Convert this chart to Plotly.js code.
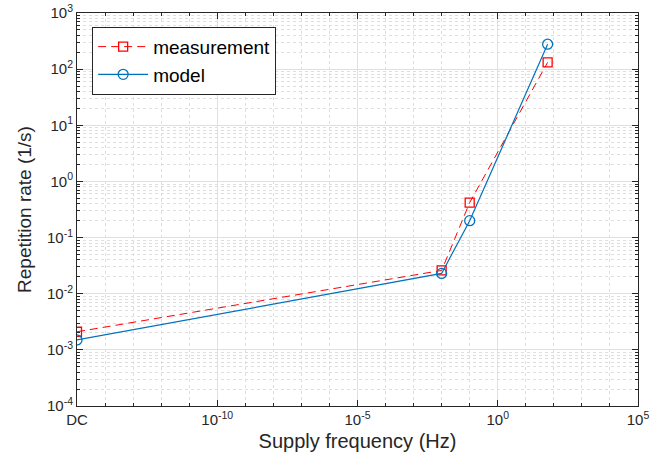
<!DOCTYPE html>
<html><head><meta charset="utf-8">
<script src="https://cdn.plot.ly/plotly-3.0.1.min.js"></script>
<style>body{margin:0;padding:0;background:#fff}#chart{width:650px;height:460px}</style>
</head><body><div id="chart"></div>
<script>
// DC is plotted at 1e-15 Hz (left edge of axis)
const freqMeas = [1e-15, 0.01, 0.1, 60];
const rateMeas = [0.0021, 0.026, 0.42, 132];
const freqModel = [1e-15, 0.01, 0.1, 60];
const rateModel = [0.0015, 0.023, 0.20, 278];
const xTickVals = [1e-15, 1e-10, 1e-5, 1, 1e5];
const xTickText = ['DC', '10<sup>-10</sup>', '10<sup>-5</sup>', '10<sup>0</sup>', '10<sup>5</sup>'];
const yTickVals = [1e-4, 1e-3, 1e-2, 1e-1, 1, 10, 100, 1000];
const yTickText = ['10<sup>-4</sup>', '10<sup>-3</sup>', '10<sup>-2</sup>', '10<sup>-1</sup>', '10<sup>0</sup>', '10<sup>1</sup>', '10<sup>2</sup>', '10<sup>3</sup>'];

const xMinor = [];
for (let e = -15; e <= 5; e++) xMinor.push(Math.pow(10, e));
const yMinor = [];
for (let e = -4; e < 3; e++) for (let d = 2; d <= 9; d++) yMinor.push(d * Math.pow(10, e));

const font = 'Liberation Sans, Arial, sans-serif';
const traces = [
  {x: freqMeas, y: rateMeas, name: 'measurement', mode: 'lines+markers',
   line: {color: '#ff0000', width: 1, dash: '8px,5px'},
   marker: {symbol: 'square-open', size: 9, color: '#ff0000', line: {width: 1.3}}},
  {x: freqModel, y: rateModel, name: 'model', mode: 'lines+markers',
   line: {color: '#0072BD', width: 1.2},
   marker: {symbol: 'circle-open', size: 10, color: '#0072BD', line: {width: 1.3}}}
];
const layout = {
  width: 650, height: 460,
  margin: {l: 77, r: 12, t: 13, b: 54},
  paper_bgcolor: '#fff', plot_bgcolor: '#fff',
  font: {family: font, size: 15, color: '#262626'},
  showlegend: true,
  legend: {x: 0.027, y: 0.965, xanchor: 'left', yanchor: 'top', bgcolor: '#fff',
           bordercolor: '#262626', borderwidth: 1, font: {size: 19, color: '#000'},
           tracegroupgap: 0, itemwidth: 50},
  xaxis: {type: 'log', range: [-15, 5], tickmode: 'array', tickvals: xTickVals, ticktext: xTickText,
          showline: true, linecolor: '#262626', linewidth: 1, mirror: 'ticks', ticks: 'inside', ticklen: 6,
          tickcolor: '#262626', showgrid: true, gridcolor: '#e0e0e0', gridwidth: 1, zeroline: false,
          tickfont: {size: 15, color: '#262626'},
          minor: {tickmode: 'array', tickvals: xMinor, ticks: 'inside', ticklen: 3, tickcolor: '#262626',
                  showgrid: true, gridcolor: '#dedede', griddash: 'dot', gridwidth: 1},
          title: {text: 'Supply frequency (Hz)', font: {size: 20, color: '#262626'}, standoff: 6}},
  yaxis: {type: 'log', range: [-4, 3], tickmode: 'array', tickvals: yTickVals, ticktext: yTickText,
          showline: true, linecolor: '#262626', linewidth: 1, mirror: 'ticks', ticks: 'inside', ticklen: 6,
          tickcolor: '#262626', showgrid: true, gridcolor: '#e0e0e0', gridwidth: 1, zeroline: false,
          tickfont: {size: 15, color: '#262626'},
          minor: {tickmode: 'array', tickvals: yMinor, ticks: 'inside', ticklen: 3, tickcolor: '#262626',
                  showgrid: true, gridcolor: '#dedede', griddash: 'dot', gridwidth: 1},
          title: {text: 'Repetition rate (1/s)', font: {size: 19, color: '#262626'}, standoff: 10}}
};
Plotly.newPlot('chart', traces, layout, {displayModeBar: false, staticPlot: true});
</script></body></html>
